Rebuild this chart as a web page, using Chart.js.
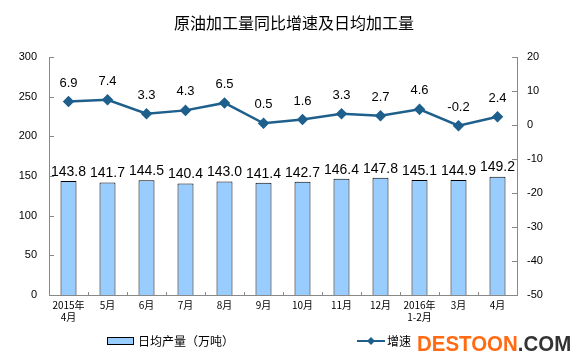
<!DOCTYPE html>
<html>
<head>
<meta charset="utf-8">
<script src="https://cdn.jsdelivr.net/npm/chart.js@4/dist/chart.umd.min.js"></script>
<style>
  body { margin: 0; background: #fff; }
  #wrap { position: relative; width: 588px; height: 364px; overflow: hidden; }
  #mark { position: absolute; left: 417px; top: 331px; font: bold 22px "Liberation Sans", Arial, sans-serif; white-space: nowrap; transform: scaleX(0.93); transform-origin: left top; }
  #mark .a { color: #ff6a13; }
  #mark .b { color: #333; }
</style>
</head>
<body>
<div id="wrap">
  <canvas id="chart" width="588" height="364"></canvas>
  <div id="mark"><span class="a">DESTOON</span><span class="b">.COM</span></div>
</div>
<script>
const months = [["2015年", "4月"], "5月", "6月", "7月", "8月", "9月", "10月", "11月", "12月", ["2016年", "1-2月"], "3月", "4月"];
const dailyOutput = [143.8, 141.7, 144.5, 140.4, 143.0, 141.4, 142.7, 146.4, 147.8, 145.1, 144.9, 149.2];
const growth = [6.9, 7.4, 3.3, 4.3, 6.5, 0.5, 1.6, 3.3, 2.7, 4.6, -0.2, 2.4];

const cjk = '"Noto Sans CJK SC", sans-serif';
const lineColor = '#1f5f8c';

// labels, inner tick marks, title and legend
const extras = {
  id: 'extras',
  afterDatasetsDraw(chart) {
    const ctx = chart.ctx;
    const area = chart.chartArea;
    ctx.save();

    // inner tick marks
    ctx.strokeStyle = '#888';
    ctx.lineWidth = 1;
    const yl = chart.scales.y, yr = chart.scales.y1, x = chart.scales.x;
    yl.ticks.forEach((t, i) => {
      const py = Math.round(yl.getPixelForTick(i)) + 0.5;
      ctx.beginPath(); ctx.moveTo(area.left, py); ctx.lineTo(area.left + 5, py); ctx.stroke();
    });
    yr.ticks.forEach((t, i) => {
      const py = Math.round(yr.getPixelForTick(i)) + 0.5;
      ctx.beginPath(); ctx.moveTo(area.right, py); ctx.lineTo(area.right - 5, py); ctx.stroke();
    });
    for (let i = 1; i < months.length; i++) {
      const px = Math.round((x.getPixelForValue(i - 1) + x.getPixelForValue(i)) / 2) + 0.5;
      ctx.beginPath(); ctx.moveTo(px, area.bottom); ctx.lineTo(px, area.bottom - 3); ctx.stroke();
    }

    // value labels
    ctx.fillStyle = '#000';
    ctx.textAlign = 'center';
    ctx.textBaseline = 'bottom';
    ctx.font = '14px "Liberation Sans", Arial, sans-serif';
    chart.getDatasetMeta(1).data.forEach((el, i) => {
      ctx.fillText(dailyOutput[i].toFixed(1), el.x, el.y - 2);
    });
    ctx.font = '13px "Liberation Sans", Arial, sans-serif';
    chart.getDatasetMeta(0).data.forEach((el, i) => {
      ctx.fillText(growth[i].toFixed(1), el.x, el.y - 12);
    });

    // title
    ctx.font = '16px ' + cjk;
    ctx.textBaseline = 'middle';
    ctx.fillText('原油加工量同比增速及日均加工量', 294, 23);

    // legend
    ctx.fillStyle = '#99ccff';
    ctx.fillRect(107, 337, 26, 7);
    ctx.strokeStyle = '#000';
    ctx.strokeRect(107.5, 337.5, 26, 7);
    ctx.fillStyle = '#000';
    ctx.font = '12px ' + cjk;
    ctx.textAlign = 'left';
    ctx.fillText('日均产量（万吨）', 138, 341);

    ctx.strokeStyle = lineColor;
    ctx.lineWidth = 2;
    ctx.beginPath(); ctx.moveTo(357, 341); ctx.lineTo(385, 341); ctx.stroke();
    ctx.fillStyle = lineColor;
    ctx.beginPath();
    ctx.moveTo(371, 337); ctx.lineTo(375, 341); ctx.lineTo(371, 345); ctx.lineTo(367, 341);
    ctx.closePath(); ctx.fill();
    ctx.fillStyle = '#000';
    ctx.fillText('增速', 387, 341);

    ctx.restore();
  }
};

new Chart(document.getElementById('chart'), {
  data: {
    labels: months,
    datasets: [
      {
        type: 'line',
        label: '增速',
        data: growth,
        yAxisID: 'y1',
        borderColor: lineColor,
        backgroundColor: lineColor,
        borderWidth: 2.5,
        pointStyle: 'rectRot',
        pointRadius: 4,
        tension: 0,
        order: 0
      },
      {
        type: 'bar',
        label: '日均产量（万吨）',
        data: dailyOutput,
        yAxisID: 'y',
        backgroundColor: '#99ccff',
        borderColor: '#000',
        borderWidth: 1,
        barPercentage: 0.82,
        categoryPercentage: 0.5,
        order: 1
      }
    ]
  },
  options: {
    responsive: false,
    animation: false,
    layout: { padding: { top: 57, bottom: 31, left: 0, right: 0 } },
    plugins: { legend: { display: false }, title: { display: false }, tooltip: { enabled: false } },
    scales: {
      x: {
        grid: { display: false, drawTicks: false },
        border: { color: '#888' },
        ticks: { color: '#000', font: { size: 10, family: cjk }, padding: 4, maxRotation: 0, autoSkip: false },
        afterFit(s) { s.height = 38; }
      },
      y: {
        position: 'left',
        min: 0, max: 300,
        ticks: { stepSize: 50, color: '#000', font: { size: 11, family: '"Liberation Sans", Arial' }, padding: 12 },
        grid: { display: false, drawTicks: false },
        border: { color: '#888' },
        afterFit(s) { s.width = 49; }
      },
      y1: {
        position: 'right',
        min: -50, max: 20,
        ticks: { stepSize: 10, color: '#000', font: { size: 11, family: '"Liberation Sans", Arial' }, padding: 10 },
        grid: { display: false, drawTicks: false },
        border: { color: '#888' },
        afterFit(s) { s.width = 71; }
      }
    }
  },
  plugins: [extras]
});
</script>
</body>
</html>
